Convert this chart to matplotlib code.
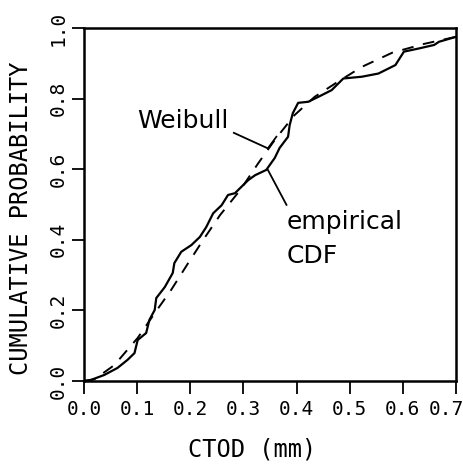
import matplotlib
matplotlib.use("Agg")
import matplotlib.pyplot as plt
from matplotlib.transforms import ScaledTranslation, blended_transform_factory

# Empirical CDF
emp_x = [0.0, 0.013, 0.038, 0.063, 0.082, 0.095, 0.101, 0.117, 0.123, 0.133, 0.136,
         0.152, 0.167, 0.170, 0.183, 0.202, 0.218, 0.230, 0.243, 0.259, 0.271, 0.284,
         0.309, 0.322, 0.343, 0.359, 0.368, 0.384, 0.387, 0.393, 0.403, 0.422, 0.441,
         0.466, 0.488, 0.523, 0.554, 0.586, 0.602, 0.630, 0.659, 0.668, 0.70]
emp_y = [0.0, 0.003, 0.017, 0.037, 0.06, 0.079, 0.116, 0.136, 0.173, 0.201, 0.235,
         0.266, 0.306, 0.334, 0.366, 0.385, 0.408, 0.436, 0.475, 0.498, 0.527, 0.532,
         0.569, 0.583, 0.598, 0.632, 0.66, 0.692, 0.725, 0.759, 0.788, 0.791, 0.805,
         0.824, 0.857, 0.862, 0.871, 0.895, 0.933, 0.942, 0.952, 0.961, 0.975]

# Weibull fit
wei_x = [0.0, 0.02, 0.057, 0.101, 0.133, 0.164, 0.196, 0.224, 0.256, 0.294, 0.327,
         0.36, 0.396, 0.434, 0.478, 0.523, 0.58, 0.64, 0.70]
wei_y = [0.0, 0.005, 0.045, 0.122, 0.192, 0.258, 0.334, 0.399, 0.47, 0.541, 0.615,
         0.685, 0.753, 0.805, 0.848, 0.89, 0.93, 0.955, 0.975]

xticks = [0.0, 0.1, 0.2, 0.3, 0.4, 0.5, 0.6, 0.7]
xticklabels = ["0.0", "0.1", "0.2", "0.3", "0.4", "0.5", "0.6", "0.7"]
yticks = [0.0, 0.2, 0.4, 0.6, 0.8, 1.0]
yticklabels = ["0.0", "0.2", "0.4", "0.6", "0.8", "1.0"]

W, H = 464, 470
fig = plt.figure(figsize=(W / 100, H / 100), dpi=100)
ax = fig.add_axes([84 / W, 89 / H, 372 / W, 353 / H])

ax.plot(emp_x, emp_y, color="black", lw=1.6)
ax.plot(wei_x, wei_y, color="black", lw=1.4, dashes=(6, 5))

ax.set_xlim(0, 0.7)
ax.set_ylim(0, 1.0)
ax.set_xticks(xticks)
# last label drawn separately (shifted inward so it stays within the figure)
ax.set_xticklabels(xticklabels[:-1] + [""], family="DejaVu Sans Mono", fontsize=14)
ax.set_yticks(yticks)
ax.set_yticklabels(yticklabels, family="DejaVu Sans Mono", fontsize=14,
                   rotation=90, va="center")
ax.tick_params(direction="out", length=9, width=1.3, color="black")
ax.tick_params(axis="x", pad=5)
ax.tick_params(axis="y", pad=3)
for s in ax.spines.values():
    s.set_linewidth(1.8)

tr = blended_transform_factory(ax.transData, ax.transAxes) + \
    ScaledTranslation(-10 / 100, -19 / 100, fig.dpi_scale_trans)
ax.text(xticks[-1], 0, xticklabels[-1], transform=tr, family="DejaVu Sans Mono",
        fontsize=14, ha="center", va="top")

fig.text(252 / W, 1 - 450 / H, "CTOD (mm)", family="DejaVu Sans Mono", fontsize=17,
         ha="center", va="center")
fig.text(21 / W, 1 - 218 / H, "CUMULATIVE PROBABILITY", family="DejaVu Sans Mono",
         fontsize=17, rotation=90, ha="center", va="center")

# annotations
ax.text(0.186, 0.737, "Weibull", fontsize=18, ha="center", va="center")
ax.plot([0.282, 0.346, 0.362], [0.703, 0.659, 0.692], color="black", lw=1.3)
ax.text(0.382, 0.45, "empirical", fontsize=18, ha="left", va="center")
ax.text(0.382, 0.354, "CDF", fontsize=18, ha="left", va="center")
ax.plot([0.346, 0.381], [0.598, 0.499], color="black", lw=1.3)

fig.savefig("out.png", dpi=100)
